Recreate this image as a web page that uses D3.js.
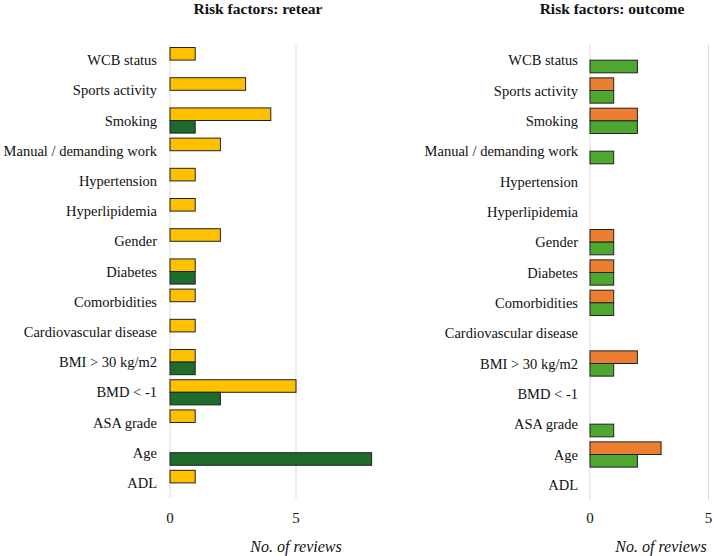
<!DOCTYPE html>
<meta charset="utf-8">
<style>
body { margin: 0; background: #fff; }
text { font-family: "Liberation Serif", "Times New Roman", serif; fill: #111; }
.grid { stroke: #d9d9d9; stroke-width: 1px; }
.bar { stroke: #222; stroke-width: 1px; }
</style>
<body>
<script src="https://cdn.jsdelivr.net/npm/d3@7"></script>
<script>

// categories, top to bottom
var categories = ["WCB status", "Sports activity", "Smoking", "Manual / demanding work",
  "Hypertension", "Hyperlipidemia", "Gender", "Diabetes", "Comorbidities",
  "Cardiovascular disease", "BMI > 30 kg/m2", "BMD < -1", "ASA grade", "Age", "ADL"];

// retear panel
var retearYellow = [1, 3, 4, 2, 1, 1, 2, 1, 1, 1, 1, 5, 1, 0, 1];
var retearGreen  = [0, 0, 1, 0, 0, 0, 0, 1, 0, 0, 1, 2, 0, 8, 0];

// outcome panel
var outcomeOrange = [0, 1, 2, 0, 0, 0, 1, 1, 1, 0, 2, 0, 0, 3, 0];
var outcomeGreen  = [2, 1, 2, 1, 0, 0, 1, 1, 1, 0, 1, 0, 1, 2, 0];

var xTicks = [0, 5];

var svg = d3.select("body").append("svg")
    .attr("width", 714)
    .attr("height", 556);

function panel(opt) {
  var g = svg.append("g");

  var x = d3.scaleLinear().domain([0, 5]).range([opt.x0, opt.x5]);
  var y = d3.scaleBand().domain(categories).range([opt.top, opt.bottom]);
  var sub = d3.scaleBand().domain(["a", "b"]).range([0, y.bandwidth()])
      .paddingInner(0).paddingOuter(0.2);

  // gridlines
  g.selectAll(".grid").data(xTicks).enter()
    .append("line")
      .attr("class", "grid")
      .attr("x1", function(d) { return x(d); })
      .attr("x2", function(d) { return x(d); })
      .attr("y1", opt.top)
      .attr("y2", opt.bottom);

  // tick labels
  g.selectAll(".tick").data(xTicks).enter()
    .append("text")
      .attr("x", function(d) { return x(d); })
      .attr("y", 523)
      .attr("text-anchor", "middle")
      .style("font-size", "15px")
      .text(function(d) { return d; });

  // category labels
  g.selectAll(".cat").data(categories).enter()
    .append("text")
      .attr("x", opt.labelX)
      .attr("y", function(d) { return y(d) + y.bandwidth() / 2; })
      .attr("dy", "0.35em")
      .attr("text-anchor", "end")
      .style("font-size", "14.5px")
      .text(function(d) { return d; });

  // bars
  var series = [
    {key: "a", values: opt.a, color: opt.colorA},
    {key: "b", values: opt.b, color: opt.colorB}
  ];
  series.forEach(function(s) {
    g.selectAll(".bar-" + s.key)
      .data(s.values.map(function(v, i) { return {cat: categories[i], v: v}; })
        .filter(function(d) { return d.v > 0; }))
      .enter()
      .append("rect")
        .attr("class", "bar")
        .attr("x", x(0))
        .attr("y", function(d) { return y(d.cat) + sub(s.key); })
        .attr("width", function(d) { return x(d.v) - x(0); })
        .attr("height", sub.bandwidth())
        .attr("fill", s.color);
  });

  // title
  g.append("text")
    .attr("x", opt.titleX)
    .attr("y", 14)
    .attr("text-anchor", "middle")
    .style("font-size", "15.5px")
    .style("font-weight", "bold")
    .text(opt.title);

  // axis title
  g.append("text")
    .attr("x", opt.axisTitleX)
    .attr("y", 552)
    .attr("text-anchor", "middle")
    .style("font-size", "16px")
    .style("font-style", "italic")
    .text("No. of reviews");
}

panel({
  title: "Risk factors: retear", titleX: 258,
  x0: 170, x5: 296, top: 45, bottom: 498, labelX: 157,
  a: retearYellow, b: retearGreen, colorA: "#ffc000", colorB: "#1e6b2c",
  axisTitleX: 296
});

panel({
  title: "Risk factors: outcome", titleX: 612,
  x0: 590, x5: 708.5, top: 45, bottom: 500, labelX: 578,
  a: outcomeOrange, b: outcomeGreen, colorA: "#ed7d31", colorB: "#4ea72e",
  axisTitleX: 661
});

</script>
</body>
